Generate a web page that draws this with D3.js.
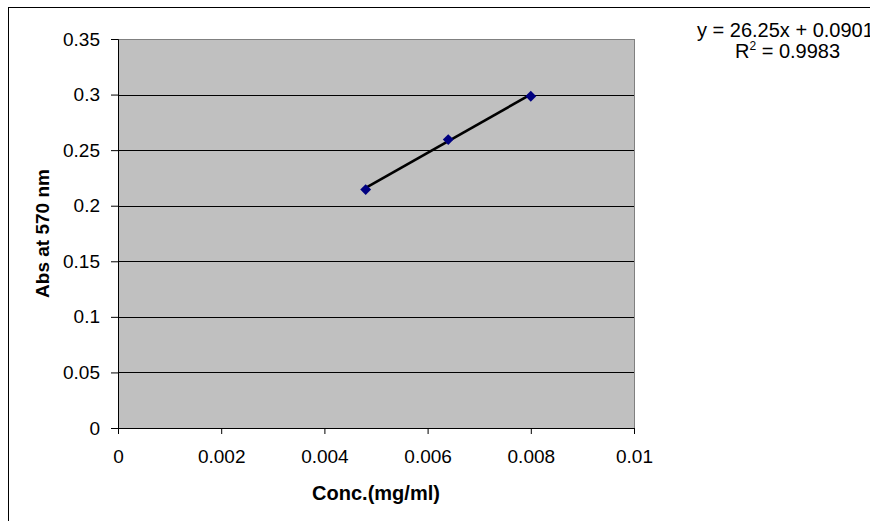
<!DOCTYPE html>
<html lang="en">
<head>
    <meta charset="UTF-8">
    <script src="https://cdnjs.cloudflare.com/ajax/libs/d3/7.8.5/d3.min.js"></script>
    <style>
        body { margin: 0; background: #fff; }
        svg text { font-family: "Liberation Sans", Arial, sans-serif; fill: #000; }
        .grid line { stroke: #000; stroke-width: 1; }
        .axis path, .axis line { stroke: #000; }
        .axis text { font-size: 19px; }
    </style>
</head>
<body>
<div class="chart"></div>
<script>
    // data
    var concs = [0.0048, 0.0064, 0.008];
    var absorb = [0.2145, 0.2595, 0.2985];
    var slope = 26.25, intercept = 0.0901;
    var eqLabel = "y = 26.25x + 0.0901";
    var r2Value = "0.9983";
    var xTicks = [0, 0.002, 0.004, 0.006, 0.008, 0.01];
    var yTicks = [0, 0.05, 0.1, 0.15, 0.2, 0.25, 0.3, 0.35];

    var width = 870, height = 521;
    var plotL = 118, plotR = 634, plotT = 39, plotB = 428;

    var svg = d3.select(".chart").append("svg")
        .attr("width", width)
        .attr("height", height);

    // outer chart frame (runs off the right/bottom)
    svg.append("rect")
        .attr("x", 8.5).attr("y", 7.5)
        .attr("width", 900).attr("height", 600)
        .attr("fill", "none").attr("stroke", "#000");

    var x = d3.scaleLinear().domain([0, 0.01]).range([plotL, plotR]);
    var y = d3.scaleLinear().domain([0, 0.35]).range([plotB, plotT]);

    svg.append("rect")
        .attr("x", plotL + 0.5).attr("y", plotT + 0.5)
        .attr("width", plotR - plotL).attr("height", plotB - plotT)
        .attr("fill", "#c0c0c0")
        .attr("stroke", "#808080");

    svg.append("g").attr("class", "grid")
        .selectAll("line")
        .data(yTicks.filter(function(d) { return d > 0 && d < 0.35; }))
        .enter().append("line")
        .attr("x1", plotL).attr("x2", plotR)
        .attr("y1", function(d) { return Math.round(y(d)) + 0.5; })
        .attr("y2", function(d) { return Math.round(y(d)) + 0.5; });

    svg.append("g").attr("class", "axis")
        .attr("transform", "translate(0," + plotB + ")")
        .call(d3.axisBottom(x).tickValues(xTicks).tickSize(6).tickPadding(16)
            .tickFormat(function(d) { return String(+d.toFixed(3)); }))
        .call(function(g) { g.select(".domain").attr("d", "M" + plotL + ",0.5H" + plotR); });

    svg.append("g").attr("class", "axis")
        .attr("transform", "translate(" + plotL + ",0)")
        .call(d3.axisLeft(y).tickValues(yTicks).tickSize(7).tickPadding(11)
            .tickFormat(function(d) { return String(+d.toFixed(2)); }))
        .call(function(g) { g.select(".domain").attr("stroke", "#606060"); });

    // trendline
    var xs = d3.extent(concs);
    svg.append("line")
        .attr("x1", x(xs[0])).attr("y1", y(slope * xs[0] + intercept))
        .attr("x2", x(xs[1])).attr("y2", y(slope * xs[1] + intercept))
        .attr("stroke", "#000").attr("stroke-width", 2.6);

    svg.selectAll(".pt")
        .data(concs)
        .enter().append("path")
        .attr("class", "pt")
        .attr("d", d3.symbol().type(d3.symbolDiamond2).size(75))
        .attr("transform", function(d, i) { return "translate(" + x(d) + "," + y(absorb[i]) + ")"; })
        .attr("fill", "#000080");

    // axis titles
    svg.append("text")
        .attr("x", (plotL + plotR) / 2).attr("y", 500)
        .attr("text-anchor", "middle")
        .style("font-size", "20px").style("font-weight", "bold")
        .text("Conc.(mg/ml)");

    svg.append("text")
        .attr("transform", "translate(49," + (plotT + plotB) / 2 + ") rotate(-90)")
        .attr("text-anchor", "middle")
        .style("font-size", "19px").style("font-weight", "bold")
        .text("Abs at 570 nm");

    // equation label
    svg.append("text")
        .attr("x", 697).attr("y", 37)
        .style("font-size", "20px")
        .text(eqLabel);

    var r2 = svg.append("text")
        .attr("x", 735).attr("y", 58)
        .style("font-size", "20px");
    r2.append("tspan").text("R");
    r2.append("tspan").attr("dy", -8).style("font-size", "12px").text("2");
    r2.append("tspan").attr("dy", 8).text(" = " + r2Value);
</script>
</body>
</html>
